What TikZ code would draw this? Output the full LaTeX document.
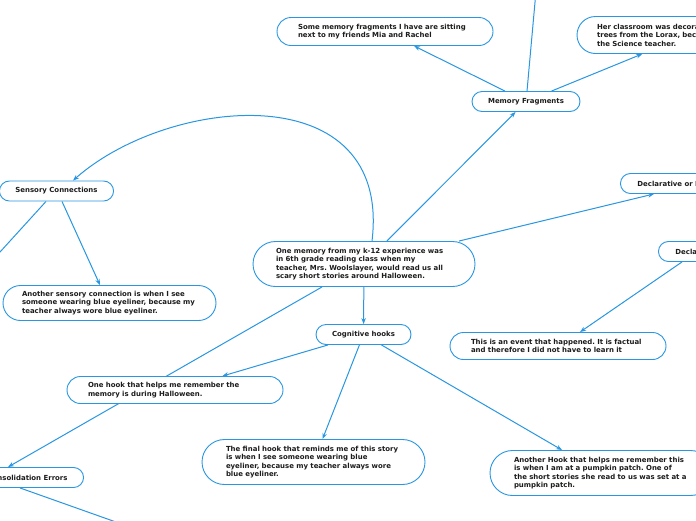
\documentclass[tikz,border=0pt]{standalone}
\usepackage{fontspec}
\setmainfont{DejaVu Sans}
\usetikzlibrary{arrows.meta,backgrounds}
\definecolor{mapblue}{RGB}{40,150,225}
\definecolor{maptext}{RGB}{28,28,28}
\frenchspacing

\begin{document}
\begin{tikzpicture}[x=1pt, y=-1pt,
  idea/.style={rectangle, draw=mapblue, fill=white, line width=0.9pt, text=maptext,
    font=\fontsize{6.95}{8.5}\selectfont\bfseries, inner xsep=16pt, inner ysep=0pt},
  lbl/.style={idea, minimum height=20pt, rounded corners=10pt},
  note/.style={idea, align=left},
  link/.style={draw=mapblue, line width=1pt, -{Stealth[length=6pt, width=4.5pt]}},
]
\useasboundingbox (0,0) rectangle (696,520);

% Central memory
\node[note, minimum width=222pt, minimum height=45pt, rounded corners=22.5pt, text width=176pt] (memory) at (364,264) {One memory from my k-12 experience was\\in 6th grade reading class when my\\teacher, Mrs. Woolslayer, would read us all\\scary short stories around Halloween.};

% Memory fragments branch
\node[lbl, minimum width=108pt] (fragments) at (526,101.5) {Memory Fragments};
\node[note, minimum width=216pt, minimum height=28pt, rounded corners=14pt, text width=174pt] (fragfriends) at (385,31.5) {Some memory fragments I have are sitting\\next to my friends Mia and Rachel};
\node[note, minimum width=223pt, minimum height=37pt, rounded corners=18.5pt, text width=183pt] (fragroom) at (688.5,35) {Her classroom was decorated with\\trees from the Lorax, because she was\\the Science teacher.};

% Sensory branch
\node[lbl, minimum width=114pt] (sensory) at (56.5,191) {Sensory Connections};
\node[note, minimum width=213pt, minimum height=35pt, rounded corners=17.5pt, text width=175pt] (eyeliner) at (109.5,303) {Another sensory connection is when I see\\someone wearing blue eyeliner, because my\\teacher always wore blue eyeliner.};

% Declarative branch
\node[lbl, anchor=west, inner xsep=17pt] (declproc) at (620,183.5) {Declarative or Procedural};
\node[lbl, anchor=west, inner xsep=17pt] (declarative) at (658,251.5) {Declarative};
\node[note, minimum width=216pt, minimum height=27pt, rounded corners=13.5pt, text width=174pt] (event) at (558,346) {This is an event that happened. It is factual\\and therefore I did not have to learn it};

% Cognitive hooks branch
\node[lbl, minimum width=95pt] (hooks) at (363.5,334.5) {Cognitive hooks};
\node[note, minimum width=216pt, minimum height=27pt, rounded corners=13.5pt, text width=174pt] (halloween) at (175,390) {One hook that helps me remember the\\memory is during Halloween.};
\node[note, minimum width=223pt, minimum height=45pt, rounded corners=22.5pt, text width=175pt] (finalhook) at (313.5,462) {The final hook that reminds me of this story\\is when I see someone wearing blue\\eyeliner, because my teacher always wore\\blue eyeliner.};
\node[note, minimum width=223pt, minimum height=45pt, rounded corners=22.5pt, text width=175pt] (pumpkin) at (601.5,473) {Another Hook that helps me remember this\\is when I am at a pumpkin patch. One of\\the short stories she read to us was set at a\\pumpkin patch.};

% Consolidation errors
\node[lbl, anchor=east] (errors) at (84,477.5) {Consolidation Errors};

% Loose ends
\coordinate (fragup) at (537,-20);
\coordinate (sensoryleft) at (-20,274);
\coordinate (declin) at (720,200);
\coordinate (errorsdown) at (130,527);

% Connectors
\begin{scope}[on background layer]
\draw[link] (memory) -- (fragments);
\draw[link] (fragments) -- (fragfriends);
\draw[link] (fragments) -- (fragroom);
\draw[link] ([xshift=1pt]fragments.north) -- (fragup);
\draw[link] ([xshift=8pt]memory.north) .. controls (392,75) and (170,95) .. ([xshift=16.5pt]sensory.north);
\draw[link] ([xshift=-10.5pt]sensory.south) -- (sensoryleft);
\draw[link] ([xshift=5.5pt]sensory.south) -- ([xshift=-9.5pt]eyeliner.north);
\draw[link] (memory) -- ([xshift=34pt]declproc.south west);
\draw[link] (declin) -- ([xshift=38pt]declarative.north west);
\draw[link] ([xshift=24pt]declarative.south west) -- ([xshift=22pt]event.north);
\draw[link] (memory) -- (hooks);
\draw[link] (hooks) -- (halloween);
\draw[link] (hooks) -- (finalhook);
\draw[link] (hooks) -- (pumpkin);
\draw[link] ([xshift=-42pt]memory.south) -- ([xshift=-76pt]errors.north east);
\draw[link] ([xshift=-64pt]errors.south east) -- (errorsdown);
\end{scope}

\end{tikzpicture}
\end{document}
